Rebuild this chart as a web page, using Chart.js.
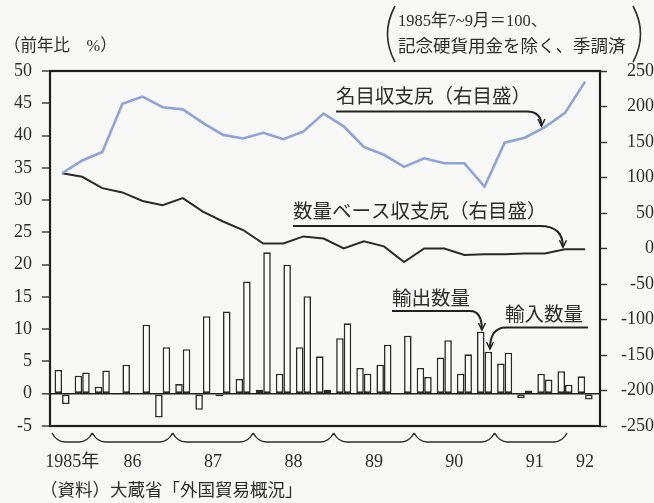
<!DOCTYPE html>
<html><head><meta charset="utf-8">
<script src="https://cdn.jsdelivr.net/npm/chart.js@4/dist/chart.umd.min.js"></script>
<style>html,body{margin:0;padding:0;background:#f8f9f6;}#wrap{width:654px;height:503px;position:relative;}</style>
</head><body><div id="wrap"><canvas id="c" width="654" height="503"></canvas></div>
<script>
const quarters = ['1985Q3','1985Q4',
  '1986Q1','1986Q2','1986Q3','1986Q4',
  '1987Q1','1987Q2','1987Q3','1987Q4',
  '1988Q1','1988Q2','1988Q3','1988Q4',
  '1989Q1','1989Q2','1989Q3','1989Q4',
  '1990Q1','1990Q2','1990Q3','1990Q4',
  '1991Q1','1991Q2','1991Q3','1991Q4',
  '1992Q1'];
// 前年比 %（左目盛）
const exportVol = [3.7,2.8,1.1,0,0,-3.7,1.5,-2.5,-0.4,2.3,0.6,3.1,7.2,5.8,8.6,4.0,4.5,0,4.0,5.6,3.1,9.6,4.7,-0.7,3.1,3.5,2.7];
const importVol = [-1.6,3.3,3.6,4.5,10.7,7.2,6.9,12.0,12.75,17.4,21.9,20.0,15.1,0.6,10.9,3.1,7.6,9.0,2.6,8.3,6.1,6.5,6.35,0.5,2.2,1.4,-0.9];
// 1985年7~9月=100（右目盛）
const nominalBalance = [106,124,136,204,214,199,196,177,160,155,163,154,165,190,172,143,132,115,127,120,120,87,149,156,171,191,235];
const volumeBalance  = [106,101,85,79,67,61,71,52,38,26,7,7,17,14,0,10,3,-19,0,0,-9,-8,-8,-7,-7,-1,-1];
const yearLabels = ['1985年','86','87','88','89','90','91','92'];
const leftTicks = {min:-5, max:50, step:5};
const rightTicks = {min:-250, max:250, step:50};

const SERIF = "'Liberation Serif','Noto Sans CJK JP',serif";
const SANS = "'Noto Sans CJK JP','Noto Sans',sans-serif";
const INK = '#2c2c2c';

// year groups from quarters
const groups = [];
quarters.forEach((q,i)=>{
  const y = q.slice(0,4);
  let g = groups[groups.length-1];
  if(!g || g.year!==y){ g={year:y,first:i,last:i}; groups.push(g);} else g.last=i;
});
const yearTickPos = groups.map(g=>(g.first+g.last)/2);

const annotations = [
  {text:'名目収支尻（右目盛）', axis:'y2', at:[13.62,214.8], lineY:193, lineTo:23.11, tip:[23.83,172.5]},
  {text:'数量ベース収支尻（右目盛）', axis:'y2', at:[11.48,52.8], lineY:31.7, lineTo:23.76, tip:[24.9,1.8]},
  {text:'輸出数量', axis:'y', at:[16.4,14.83], lineY:12.81, lineTo:20.28, tip:[20.87,9.87]},
  {text:'輸入数量', axis:'y', at:[22.02,12.35], lineY:10.26, lineFrom:26.14, lineTo:22.07, tip:[21.27,6.93]}
];

const pts = arr => arr.map((v,i)=>({x:i,y:v}));

const decor = {
  id:'decor',
  afterDraw(chart){
    const ctx = chart.ctx, a = chart.chartArea, sx = chart.scales.x;
    ctx.save();
    // frame
    ctx.strokeStyle = '#1e1e1e'; ctx.lineWidth = 2.2;
    ctx.strokeRect(a.left, a.top, a.right-a.left, a.bottom-a.top);
    // braces
    ctx.strokeStyle = INK; ctx.lineWidth = 1.5;
    const top = a.bottom+7, flat = a.bottom+16;
    ctx.beginPath();
    groups.slice(0,-1).forEach((g,k)=>{
      const x0 = sx.getPixelForValue(g.first-0.5), x1 = sx.getPixelForValue(g.last+0.5) - (k===groups.length-2?8:0);
      ctx.moveTo(x0, top);
      ctx.quadraticCurveTo(x0+5, flat, x0+13, flat);
      ctx.lineTo(x1-13, flat);
      ctx.quadraticCurveTo(x1-5, flat, x1, top);
    });
    ctx.stroke();
    // annotations
    annotations.forEach(an=>{
      const sy = chart.scales[an.axis];
      const X = v=>sx.getPixelForValue(v), Y = v=>sy.getPixelForValue(v);
      ctx.fillStyle = INK; ctx.font = '19.5px '+SANS;
      ctx.textAlign='left'; ctx.textBaseline='middle';
      ctx.fillText(an.text, X(an.at[0]), Y(an.at[1]));
      const start = an.lineFrom!==undefined ? an.lineFrom : an.at[0];
      const ly = Y(an.lineY), tx = X(an.tip[0]), ty = Y(an.tip[1]);
      ctx.strokeStyle = '#222'; ctx.lineWidth = 2;
      ctx.beginPath();
      ctx.moveTo(X(start), ly);
      ctx.lineTo(X(an.lineTo), ly);
      ctx.quadraticCurveTo(tx, ly, tx, ty);
      ctx.stroke();
      ctx.lineWidth = 1.5;
      ctx.beginPath();
      ctx.moveTo(tx-3.5, ty-7); ctx.lineTo(tx, ty); ctx.lineTo(tx+3.5, ty-7);
      ctx.stroke();
    });
    // header texts
    ctx.fillStyle = INK; ctx.textAlign='left'; ctx.textBaseline='middle';
    ctx.font = '16.5px '+SERIF;
    ctx.fillText('（前年比　%）', 4, 47);
    ctx.font = '16.5px '+SERIF;
    ctx.fillText('1985年7~9月＝100、', 398, 22);
    ctx.font = '17.5px '+SERIF;
    ctx.fillText('記念硬貨用金を除く、季調済', 398, 47);
    ctx.strokeStyle = INK; ctx.lineWidth = 1.6;
    ctx.beginPath();
    ctx.moveTo(395,6); ctx.quadraticCurveTo(380,34,395,62);
    ctx.moveTo(633,6); ctx.quadraticCurveTo(648,34,633,62);
    ctx.stroke();
    ctx.font = '17.5px '+SERIF;
    ctx.fillText('（資料）大蔵省「外国貿易概況」', 40, 491);
    ctx.restore();
  }
};

new Chart(document.getElementById('c'), {
  data:{
    datasets:[
      {type:'line', label:'名目収支尻', data:pts(nominalBalance), yAxisID:'y2', borderColor:'#8ea3d9', borderWidth:2.6, pointRadius:0, tension:0, order:0},
      {type:'line', label:'数量ベース収支尻', data:pts(volumeBalance), yAxisID:'y2', borderColor:'#2a2a2a', borderWidth:2, pointRadius:0, tension:0, order:1},
      {type:'bar', label:'輸出数量', data:pts(exportVol), yAxisID:'y', backgroundColor:'#fbfcfa', borderColor:'#2a2a2a', borderWidth:1.6, borderSkipped:false, categoryPercentage:0.75, barPercentage:1.0, order:2},
      {type:'bar', label:'輸入数量', data:pts(importVol), yAxisID:'y', backgroundColor:'#fbfcfa', borderColor:'#2a2a2a', borderWidth:1.6, borderSkipped:false, categoryPercentage:0.75, barPercentage:1.0, order:3}
    ]
  },
  options:{
    responsive:false, animation:false, devicePixelRatio:1,
    layout:{padding:{top:71,left:0,right:0,bottom:0}},
    plugins:{legend:{display:false}, tooltip:{enabled:false}},
    scales:{
      x:{type:'linear', min:-0.6, max:26.74, offset:false,
        grid:{display:false, drawTicks:false}, border:{display:false},
        afterBuildTicks:s=>{ s.ticks = yearTickPos.map(v=>({value:v})); },
        afterFit:s=>{ s.height = 77; },
        ticks:{autoSkip:false, maxRotation:0, padding:25, color:INK, font:{family:SERIF, size:18},
          callback:(v,i)=>yearLabels[i]}
      },
      y:{position:'left', min:leftTicks.min, max:leftTicks.max,
        afterFit:s=>{ s.width = 50; },
        border:{display:false},
        grid:{tickLength:8, tickColor:'#333', tickWidth:1.4,
          color:c=>c.tick && c.tick.value===0 ? '#1e1e1e' : 'rgba(0,0,0,0)',
          lineWidth:c=>c.tick && c.tick.value===0 ? 1.6 : 0},
        ticks:{stepSize:leftTicks.step, padding:10, color:INK, font:{family:SERIF, size:18}}
      },
      y2:{position:'right', min:rightTicks.min, max:rightTicks.max,
        afterFit:s=>{ s.width = 54; },
        border:{display:false},
        grid:{drawOnChartArea:false, tickLength:7, tickColor:'#333', tickWidth:1.4},
        ticks:{stepSize:rightTicks.step, padding:1, crossAlign:'far', color:INK, font:{family:SERIF, size:18}}
      }
    }
  },
  plugins:[decor]
});
</script></body></html>
